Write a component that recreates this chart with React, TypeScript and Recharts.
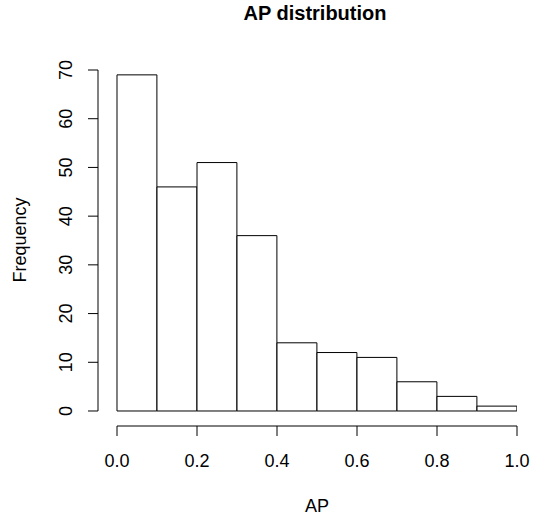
import { BarChart, Bar, XAxis, YAxis, ReferenceLine } from "recharts";

// histogram of AP, bins of width 0.1
const binStarts = [0, 0.1, 0.2, 0.3, 0.4, 0.5, 0.6, 0.7, 0.8, 0.9];
const counts = [69, 46, 51, 36, 14, 12, 11, 6, 3, 1];
const xTicks = [0, 0.2, 0.4, 0.6, 0.8, 1];
const yTicks = [0, 10, 20, 30, 40, 50, 60, 70];

const data = binStarts.map((s, i) => ({ mid: s + 0.05, count: counts[i] }));

const FONT = "'Liberation Sans', Arial, sans-serif";

const YTick = (props: any) => {
	const { x, y, payload } = props;
	return (
		<text
			x={x - 16}
			y={y}
			transform={`rotate(-90, ${x - 16}, ${y})`}
			textAnchor="middle"
			fontSize={18}
			fontFamily={FONT}
			fill="#000"
		>
			{payload.value}
		</text>
	);
};

const XTick = (props: any) => {
	const { x, y, payload } = props;
	return (
		<text x={x} y={y} dy="0.71em" textAnchor="middle" fontSize={18} fontFamily={FONT} fill="#000">
			{payload.value.toFixed(1)}
		</text>
	);
};

export default function App() {
	return (
		<div style={{ position: "absolute", left: 0, top: 0, width: 538, height: 515, background: "#fff" }}>
			<BarChart
				width={538}
				height={515}
				data={data}
				margin={{ top: 70, right: 21, left: 38, bottom: 29 }}
				barCategoryGap={0}
				barGap={0}
			>
				<text x={315} y={20} textAnchor="middle" fontSize={20} fontWeight="bold" fontFamily={FONT} fill="#000">
					AP distribution
				</text>
				<text x={317} y={512} textAnchor="middle" fontSize={18} fontFamily={FONT} fill="#000">
					AP
				</text>
				<text
					x={26}
					y={240}
					transform="rotate(-90, 26, 240)"
					textAnchor="middle"
					fontSize={18}
					fontFamily={FONT}
					fill="#000"
				>
					Frequency
				</text>
				<XAxis
					dataKey="mid"
					type="number"
					domain={[-0.0475, 1]}
					allowDataOverflow
					ticks={xTicks}
					height={60}
					axisLine={false}
					tickLine={{ stroke: "#000" }}
					tickSize={10}
					tickMargin={18}
					tick={<XTick />}
				/>
				<YAxis
					type="number"
					domain={[-3.08, 70]}
					allowDataOverflow
					ticks={yTicks}
					width={60}
					axisLine={false}
					tickLine={{ stroke: "#000" }}
					tickSize={10}
					tickMargin={0}
					tick={<YTick />}
				/>
				<ReferenceLine
					segment={[
						{ x: -0.0475, y: 0 },
						{ x: -0.0475, y: 70 },
					]}
					stroke="#000"
					ifOverflow="visible"
				/>
				<ReferenceLine
					segment={[
						{ x: 0, y: -3.08 },
						{ x: 1, y: -3.08 },
					]}
					stroke="#000"
					ifOverflow="visible"
				/>
				<Bar
					dataKey="count"
					fill="#fff"
					stroke="#000"
					strokeWidth={1}
					barSize={39.9}
					isAnimationActive={false}
				/>
			</BarChart>
		</div>
	);
}
